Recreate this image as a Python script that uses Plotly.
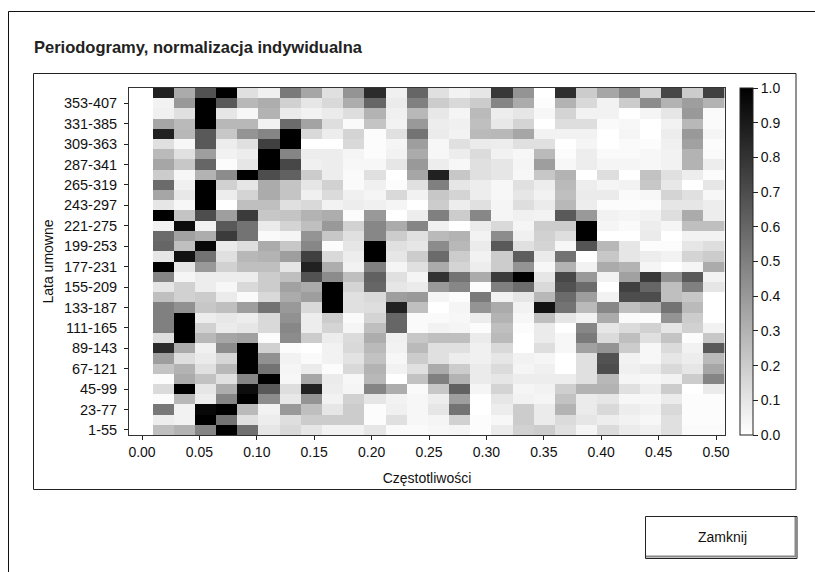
import plotly.graph_objects as go

# Row labels bottom -> top (every row of the sliding window, 11 years apart)
row_labels = [f"{a}-{a + 54}" for a in range(1, 365, 11)]

freq_start = 0.0
freq_step = 0.01846

# rows listed bottom (1-55) -> top, k = 0..27
r0  = [0,.25,.30,.48,1,.56,.10,.15,.10,.05,.05,.10,.02,.02,.03,.04,.01,.08,.18,.20,.12,.04,.14,.08,.06,.12,.02,.02]
r1  = [0,.07,.05,1,.55,.12,.07,.13,.20,.20,.20,.01,.12,.03,.04,.18,.01,.03,.20,.08,.14,.10,.07,.05,.03,.12,.01,.01]
r2  = [0,.53,.05,.97,1,.27,.05,.40,.25,.10,.20,.01,.06,.03,.10,.55,0,.07,.20,.08,.30,.08,.15,.07,.05,.15,.01,.01]
r3  = [0,.01,.28,.07,.48,1,.45,.09,.42,.05,.18,.10,.05,.03,.07,.38,0,.10,.05,.04,.24,.08,.10,.03,.03,.08,.01,.01]
r4  = [0,.14,1,.10,.32,.95,.65,.13,.87,.07,.04,.48,.32,.02,.22,.62,.04,.17,.04,.05,.19,.30,.30,.12,.07,.20,0,.08]
r5  = [0,.01,.33,.24,.12,.48,1,.03,.35,.08,.03,.28,0,.24,.50,.30,.08,.10,.07,.07,.07,.12,.28,.04,.03,.05,.20,.48]
r6  = [0,.23,.30,.12,.28,1,.55,.04,.08,.01,.15,.30,.05,.12,.33,.20,.08,.14,.04,.06,0,.12,.70,.06,.08,.15,.10,.35]
r7  = [0,.38,.13,.08,.16,1,.43,.05,.02,.05,.11,.24,.03,.20,.12,.07,.06,.10,.05,.04,0,.12,.68,.05,.03,.10,.07,.27]
r8  = [0,.83,.33,.06,.45,1,.18,.01,0,.05,.15,.27,.05,.27,.12,.12,.06,.15,0,.13,.03,.37,.42,.20,.03,.14,.05,.65]
r9  = [0,.13,1,.28,.35,.37,.01,.45,.20,.07,.14,.32,.06,.22,.25,.25,.08,.27,0,.08,.03,.52,.14,.25,.12,.23,.01,.22]
r10 = [0,.50,1,.18,.08,.10,.15,.47,.07,.17,.04,.25,.60,.02,.05,.04,.01,.25,.01,.08,0,.47,.10,.14,.18,.10,.18,.05]
r11 = [0,.50,1,.07,.09,.07,.15,.43,.07,.20,.02,.17,.60,.02,.02,.03,.07,.30,.03,.25,.10,.05,.33,.02,.01,.42,.20,0]
r12 = [0,.50,.43,.22,.25,.38,.55,.40,.15,1,.12,.13,.87,.25,0,.04,.42,.33,.05,.93,.55,.27,.47,.25,.30,.55,.27,0]
r13 = [0,.25,.18,.20,.08,.02,.15,.33,.38,1,.12,.15,.38,.40,.04,.01,.52,.05,.10,.28,.58,.38,.05,.70,.70,.25,.22,0]
r14 = [0,.10,.18,.07,.03,.15,.20,.37,.33,1,.17,.60,.10,.08,.40,.47,.01,.50,.58,.15,.68,.58,0,.75,.60,.25,.50,.10]
r15 = [0,.48,.04,.07,.07,.07,.20,.25,.68,.45,.25,.62,.12,.04,.80,.55,.33,.77,1,.10,.72,.40,.05,.37,.78,.43,.65,.05]
r16 = [0,1,.10,.40,.18,.25,.25,.10,.87,.32,.05,.50,.04,.12,.33,.17,.07,.20,.42,.03,.30,.05,.33,.30,.04,0,.04,.33]
r17 = [0,.10,.93,.55,.12,.28,.30,.38,.75,.15,.07,1,.10,.20,.58,.20,.05,.20,.63,.08,.55,0,.22,.10,.07,.05,.17,.20]
r18 = [0,.60,.25,.97,.08,.13,.33,.22,.47,.01,.10,1,.12,.10,.45,.28,.08,.65,.12,.17,.03,.67,.28,.10,.01,.01,.10,.13]
r19 = [0,.58,.37,.32,.77,.55,.02,.04,.42,.22,.12,.47,.20,.12,.27,.30,.05,.45,.06,.18,.13,1,0,0,.08,0,.05,.05]
r20 = [0,.05,.95,.05,.65,.55,.08,.17,.25,.40,.18,.47,.33,.48,.06,0,.08,.15,.04,.20,.20,1,.04,.02,.07,.04,.25,.25]
r21 = [0,1,.23,.70,.38,.77,.22,.23,.30,.32,.01,.40,0,.07,.50,.20,.47,.04,.06,.05,.65,.40,.05,.04,.05,.13,.33,.07]
r22 = [0,.10,.03,1,0,.25,.25,.12,.15,.05,.07,.06,.04,0,.20,.07,.12,.04,.13,.08,.28,.07,.01,.01,.01,.10,.10,.07]
r23 = [0,.35,.09,1,.07,.17,.33,.23,.06,.14,.06,.04,.15,.05,.22,.17,.07,.03,.10,.05,.25,.08,.08,.02,.03,.17,.12,.03]
r24 = [0,.58,.06,1,.18,.10,.33,.23,.10,.18,.02,.06,.01,.12,.50,.10,.07,.03,.12,.07,.27,.07,.04,.05,.22,.09,0,.10]
r25 = [0,.20,.03,.30,.45,1,.70,.62,.20,.07,.02,.12,0,.35,.87,.22,.12,.10,.03,.22,.30,0,.13,0,.24,.12,.07,.01]
r26 = [0,.35,.22,.60,.01,.10,1,.72,.06,.07,.03,.03,.10,.40,.07,.03,.12,.10,.04,.38,.03,.07,.04,.04,.03,.05,.30,.07]
r27 = [0,.27,.12,.38,.05,.07,1,.48,.07,.07,.04,.01,.05,.33,.03,.07,.14,.05,.03,.27,.01,.07,.02,.02,.03,.05,.30,.02]
r28 = [0,.12,.03,.65,.07,.12,.75,1,0,0,.15,.01,.04,.38,.03,.12,.08,.07,.12,.12,0,.04,0,.02,.01,.06,.37,.01]
r29 = [0,.87,.28,.65,.22,.42,.48,1,.15,.07,.17,.01,.12,.55,.08,.05,.27,.28,.35,.05,.05,.05,0,.04,0,.07,.40,.04]
r30 = [0,.35,.27,1,.28,.28,.05,.58,.36,.13,.02,.23,.05,.40,.07,.06,.25,.09,.17,0,.13,.13,.02,.03,0,.05,.28,.02]
r31 = [0,.06,.12,1,.10,.03,.30,.08,.05,.08,.13,.30,.06,.28,.09,.04,.27,.07,.10,.03,.17,.05,.05,0,.04,.10,.40,.02]
r32 = [0,.05,.40,1,.65,.28,.32,.18,.10,.15,.32,.60,.08,.50,.20,.15,.20,.48,.33,.01,.30,.15,.05,.20,.45,.30,.38,.30]
r33 = [0,.87,.33,.68,1,.12,.06,.52,.35,.12,.42,.83,.06,.60,.12,.05,.10,.78,.42,0,.82,.20,.35,.47,.17,.72,.20,.75]

rows = [r0, r1, r2, r3, r4, r5, r6, r7, r8, r9, r10, r11, r12, r13, r14, r15, r16,
        r17, r18, r19, r20, r21, r22, r23, r24, r25, r26, r27, r28, r29, r30, r31, r32, r33]

FONT = "Liberation Sans"
INK = "#111111"
LABEL = 14

fig = go.Figure(go.Heatmap(
    z=rows, x0=freq_start, dx=freq_step, y=row_labels,
    zmin=0, zmax=1,
    colorscale=[[0, "#ffffff"], [1, "#000000"]],
    xgap=0, ygap=0,
    colorbar=dict(
        thicknessmode="pixels", thickness=13, lenmode="fraction", len=1,
        x=1.025, xanchor="left", xpad=0, y=0.5, yanchor="middle", ypad=0,
        outlinecolor="#222222", outlinewidth=1,
        tickmode="linear", tick0=0, dtick=0.1, tickformat=".1f",
        ticks="outside", ticklen=5, tickcolor="#222222", tickwidth=1,
        tickfont=dict(family=FONT, size=LABEL, color=INK),
    ),
))

fig.update_layout(
    width=815, height=572,
    margin=dict(l=129, r=90, t=88, b=137),
    paper_bgcolor="white", plot_bgcolor="white",
    font=dict(family=FONT, size=LABEL, color=INK),
    xaxis=dict(
        range=[-0.01132, 0.50784], tickmode="linear", tick0=0, dtick=0.05, tickformat=".2f",
        ticks="outside", ticklen=4, tickcolor="#222222", showgrid=False, zeroline=False,
        showline=True, linecolor="#333333", linewidth=1, mirror=True,
        title=dict(text="Częstotliwości", font=dict(family=FONT, size=LABEL, color=INK), standoff=14),
    ),
    yaxis=dict(
        type="category", tickmode="linear", tick0=0, dtick=2,
        ticks="outside", ticklen=4, tickcolor="#222222", showgrid=False, zeroline=False,
        showline=True, linecolor="#333333", linewidth=1, mirror=True,
        ticklabelstandoff=4, tickfont=dict(family=FONT, size=14.5, color=INK),
        title=dict(text="Lata umowne", font=dict(family=FONT, size=LABEL, color=INK), standoff=6),
    ),
)

# Window chrome is drawn in pixel space relative to the figure, using paper coords
W, H = 596.0, 347.0
def px(x): return (x - 129.0) / W
def py(y): return 1 - (y - 88.0) / H

def rect(x0, y0, x1, y1, color="#222222", width=1, fill=None):
    return dict(type="rect", xref="paper", yref="paper", layer="below",
                x0=px(x0), y0=py(y0), x1=px(x1), y1=py(y1),
                line=dict(color=color, width=width),
                fillcolor=fill if fill else "rgba(0,0,0,0)")

def line(x0, y0, x1, y1, color="#111111", width=1):
    return dict(type="line", xref="paper", yref="paper", layer="below",
                x0=px(x0), y0=py(y0), x1=px(x1), y1=py(y1),
                line=dict(color=color, width=width))

fig.layout.shapes = [
    line(8.5, 11.5, 815, 11.5),
    line(8.5, 11.5, 8.5, 572),
    rect(33.5, 73.5, 796, 489.5),
    rect(645.5, 516.5, 797, 558.5, color="#222222", fill="#ffffff"),
    line(646, 556.5, 796.5, 556.5, color="#888888", width=2),
    line(795.5, 517, 795.5, 557, color="#888888", width=2),
]

fig.add_annotation(xref="paper", yref="paper", x=px(32), y=py(47), xanchor="left", yanchor="middle",
                   text="<b>Periodogramy, normalizacja indywidualna</b>", showarrow=False,
                   font=dict(family=FONT, size=16.5, color="#222222"))
fig.add_annotation(xref="paper", yref="paper", x=px(722), y=py(537), xanchor="center", yanchor="middle",
                   text="Zamknij", showarrow=False, font=dict(family=FONT, size=LABEL, color=INK))

fig.write_html("out.html", config={"displayModeBar": False},
               post_script="document.body.style.margin='0';document.body.style.overflow='hidden';")
